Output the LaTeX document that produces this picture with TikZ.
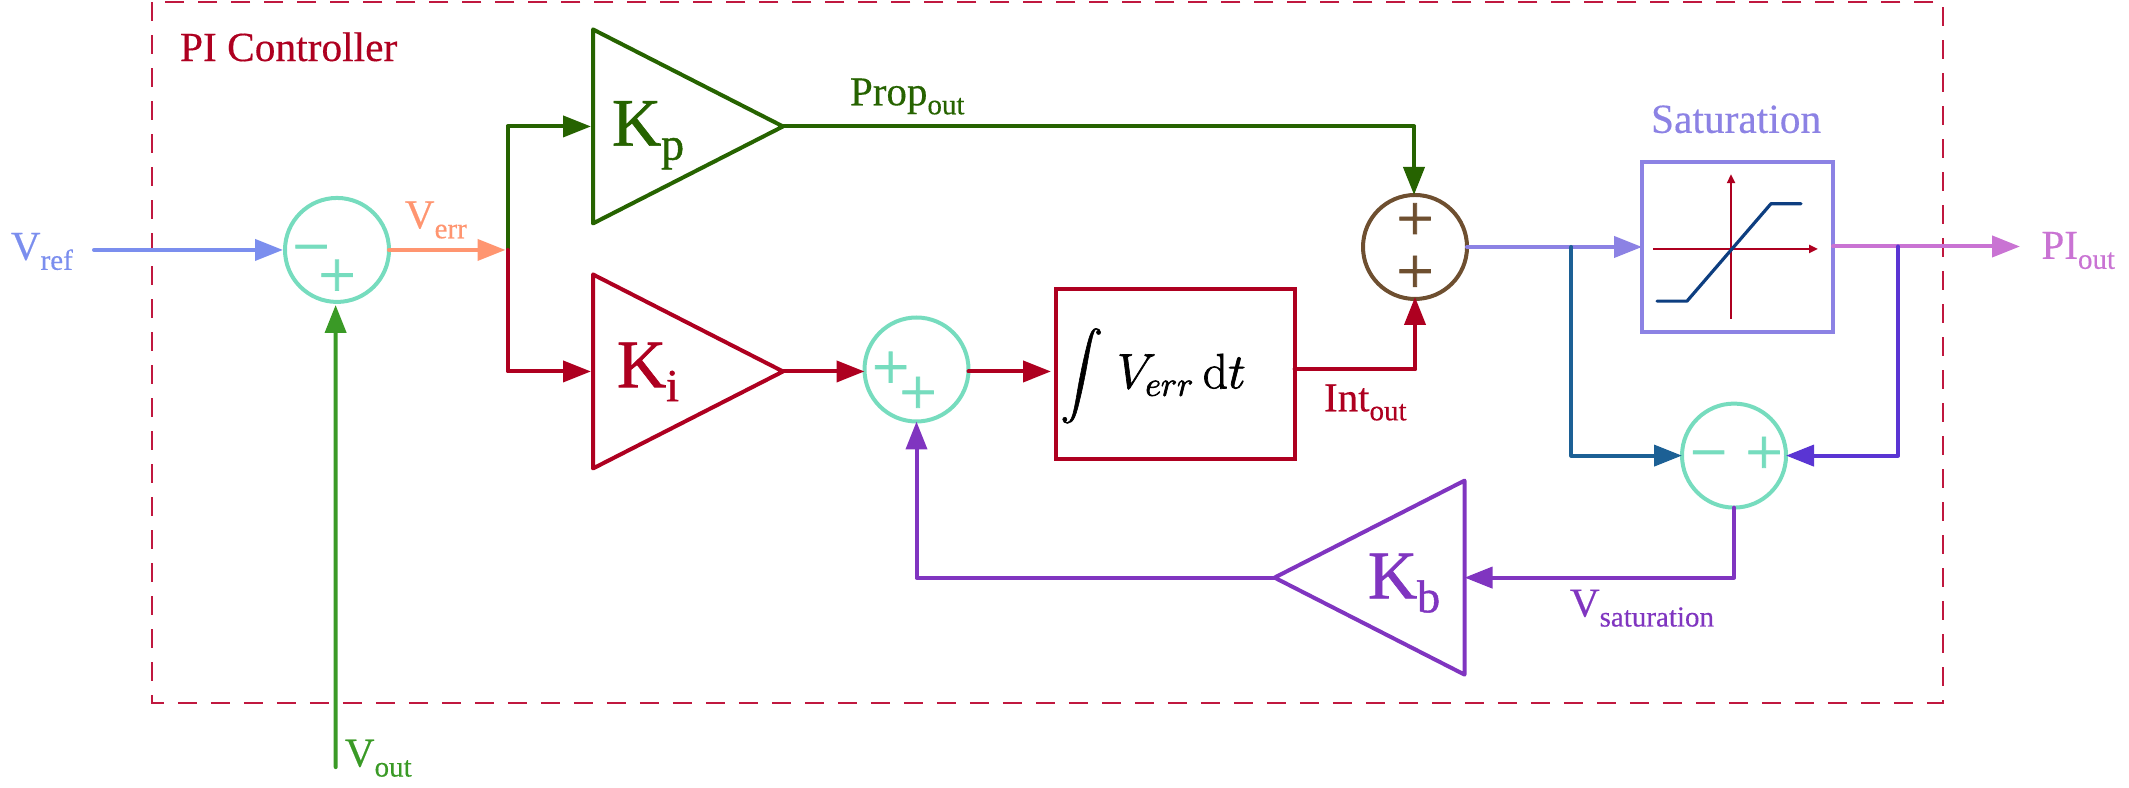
\documentclass[tikz,border=0pt]{standalone}
\usepackage[no-math]{fontspec}
\setmainfont[FakeBold=0.35]{Liberation Serif}
\newfontfamily\signfont[FakeBold=1.2]{Liberation Serif}
\newfontfamily\gainfont[FakeBold=1.0]{Liberation Serif}
\usepackage{amsmath,graphicx}
\usetikzlibrary{arrows.meta,calc}
\definecolor{cRed}{HTML}{AE0020}
\definecolor{cDash}{HTML}{C0183F}
\definecolor{cKp}{HTML}{266300}
\definecolor{cRef}{HTML}{7B8EEE}
\definecolor{cErr}{HTML}{FF9570}
\definecolor{cTeal}{HTML}{76DCBE}
\definecolor{cOut}{HTML}{3A9A26}
\definecolor{cBrown}{HTML}{6E4F30}
\definecolor{cSat}{HTML}{8C82E4}
\definecolor{cPI}{HTML}{C973D3}
\definecolor{cBlue}{HTML}{1C6095}
\definecolor{cViolet}{HTML}{5A35D3}
\definecolor{cPurple}{HTML}{8035C0}
\definecolor{cNavy}{HTML}{0D3E80}
\newcommand{\mylab}[3][5pt]{\fontsize{20.5}{22}\selectfont #2\raisebox{-#1}{\fontsize{14.5}{16}\selectfont #3}}
\newcommand{\mygain}[2]{\gainfont\fontsize{34}{38}\selectfont #1\raisebox{-7pt}{\fontsize{23}{25}\selectfont #2}}
\tikzset{
  wire/.style={line width=2pt,line join=round,line cap=round},
  arr/.style={wire,-{Triangle[length=14pt,width=10.5pt]}},
  sumc/.style={circle,draw,line width=2pt,inner sep=0pt,outer sep=0pt,minimum size=52pt},
  gainbox/.style={inner sep=0pt,outer sep=0pt,minimum width=95pt,minimum height=97pt},
  tri/.style={line width=2pt,line join=round},
  blockbox/.style={rectangle,draw,line width=2pt,inner sep=0pt,outer sep=0pt},
  lab/.style={inner sep=0pt,outer sep=0pt,anchor=base west},
  sign/.style={inner sep=0pt,outer sep=0pt,text=cTeal,font=\signfont\fontsize{33}{33}\selectfont},
  thin axis/.style={cRed,line width=1pt,-{Triangle[length=4.5pt,width=4pt]}}
}
\begin{document}
\begin{tikzpicture}[x=0.5pt,y=-0.492pt]
\useasboundingbox (0,0) rectangle (2129,800);
% frame
\draw[cDash,line width=1pt,dash pattern=on 9.5pt off 7pt] (152,2.5) rectangle (1943,714);
\node[lab,text=cRed,font=\fontsize{20.7}{22}\selectfont] (title) at (180,62) {PI Controller};

% summing junctions
\node[sumc,draw=cTeal] (a) at (337,254) {};
\node[sumc,draw=cTeal] (b) at (916.5,375.5) {};
\node[sumc,draw=cBrown] (s) at (1415,251) {};
\node[sumc,draw=cTeal] (c) at (1734,463) {};
\node[sign] (am) at (311,254) {\vphantom{+}−};
\node[sign] (ap) at (337,283) {+};
\node[sign] (bp1) at (890.6,376.5) {+};
\node[sign] (bp2) at (918,402) {+};
\node[sign,text=cBrown] (sp1) at (1415,225.5) {+};
\node[sign,text=cBrown] (sp2) at (1415,279) {+};
\node[sign] (cm) at (1708.5,463) {\vphantom{+}−};
\node[sign] (cp) at (1764,463) {+};

% gains
\node[gainbox] (kp) at (688,128.5) {};
\draw[tri,cKp] (kp.north west) -- (kp.east) -- (kp.south west) -- cycle;
\node[lab,text=cKp] (kpt) at (612,148) {\mygain{K}{p}};
\node[gainbox] (ki) at (688,377.5) {};
\draw[tri,cRed] (ki.north west) -- (ki.east) -- (ki.south west) -- cycle;
\node[lab,text=cRed] (kit) at (617,393.5) {\mygain{K}{i}};
\node[gainbox] (kb) at (1369.5,587) {};
\draw[tri,cPurple] (kb.north east) -- (kb.west) -- (kb.south east) -- cycle;
\node[lab,text=cPurple] (kbt) at (1368,608) {\mygain{K}{b}};

% integrator
\node[blockbox,draw=cRed,minimum width=119.3pt,minimum height=84.6pt] (int) at (1175.3,380) {};
\node[inner sep=0pt,font=\fontsize{24.3}{28}\selectfont] (intt) at (1153,382) {\special{pdf:code 2 Tr 0.35 w}$\vcenter{\hbox{\scalebox{0.86}{$\displaystyle\int$}}}\;V_{err}\,\mathrm{d}t$\special{pdf:code 0 Tr 0 w}};

% saturation
\node[blockbox,draw=cSat,minimum width=95.5pt,minimum height=84.6pt] (sat) at (1737.5,251) {};
\node[lab,text=cSat,font=\fontsize{20.7}{22}\selectfont] (satt) at (1651,135) {Saturation};
\coordinate (axl) at (1653,253);
\coordinate (axr) at (1818,253);
\coordinate (axb) at (1731,324);
\coordinate (axt) at (1731,177);
\draw[thin axis] (axl) -- (axr);
\draw[thin axis] (axb) -- (axt);
\coordinate (c1) at (1657,306);
\coordinate (c2) at (1687,306);
\coordinate (c3) at (1771,207);
\coordinate (c4) at (1801,207);
\draw[cNavy,line width=1.6pt,line join=round,line cap=round] (c1) -- (c2) -- (c3) -- (c4);

% labels
\node[lab,text=cRef] (vref) at (11,264) {\mylab{V}{ref}};
\node[lab,text=cErr] (verr) at (405,232) {\mylab{V}{err}};
\node[lab,text=cOut] (vout) at (345,779) {\mylab{V}{out}};
\node[lab,text=cKp] (prop) at (850,107) {\mylab[4.5pt]{Prop}{out}};
\node[lab,text=cRed] (into) at (1324,418) {\mylab[4.5pt]{Int}{out}};
\node[lab,text=cPI] (piout) at (2041.5,263) {\mylab{PI}{out}};
\node[lab,text=cPurple] (vsat) at (1570,626.5) {\mylab{V}{saturation}};

% connectors
\coordinate (refs) at (94,254);
\coordinate (j) at (507.5,254);
\coordinate (vos) at (335.7,779.6);
\coordinate (kpc) at (1414,128.5);
\coordinate (intc) at (1294.6,375);
\coordinate (sb) at (1571.4,251);
\coordinate (ob) at (1898,250.5);
\coordinate (pie) at (2020,250.5);

\draw[arr,cRef] (refs) -- ([xshift=-1pt]a.west);
\draw[arr,cErr] (a.east) -- ([xshift=-1pt]j);
\draw[arr,cOut] (vos) -- ([xshift=-0.7pt,yshift=-1.5pt]a.south);
\draw[arr,cKp,shorten >=1pt] (j) |- (kp.west);
\draw[arr,cRed,shorten >=1pt] (j) |- (ki.west);
\draw[wire,cKp] (kp.east) -- (kpc);
\draw[arr,cKp] (kpc) -- (kpc|-s.north);
\draw[arr,cRed] (ki.east) -- (b.west|-ki.east);
\draw[arr,cRed] (b.east|-ki.east) -- ([xshift=-2.5pt]int.west|-ki.east);
\draw[wire,cRed] (intc) -- (intc-|s.south);
\draw[arr,cRed] (intc-|s.south) -- ([yshift=1pt]s.south);
\draw[arr,cSat] (s.east) -- (sat.west);
\draw[arr,cPI] (sat.east|-ob) -- (pie);
\draw[arr,cBlue] (sb) |- (c.west);
\draw[arr,cViolet] (ob) |- (c.east);
\draw[arr,cPurple] (c.south) |- (kb.east);
\draw[arr,cPurple] (kb.west) -| (b.south);
\end{tikzpicture}
\end{document}
